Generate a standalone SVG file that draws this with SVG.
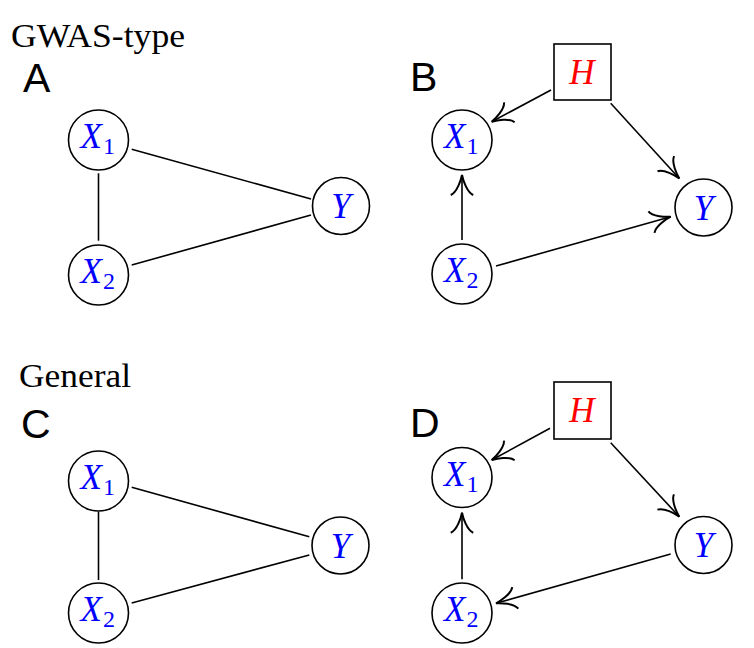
<svg xmlns="http://www.w3.org/2000/svg" width="754" height="648" viewBox="0 0 754 648">
<style>
.bg{fill:#fff}
.nd{fill:#fff;stroke:#000;stroke-width:1.6}
.ed{fill:none;stroke:#000;stroke-width:1.6}
.var{font-family:"Liberation Serif",serif;font-style:italic;font-size:35px;fill:#0000ff}
.sub{font-family:"Liberation Serif",serif;font-style:normal;font-size:24px;fill:#0000ff}
.hid{font-family:"Liberation Serif",serif;font-style:italic;font-size:35px;fill:#ff0000}
.ttl{font-family:"Liberation Serif",serif;font-size:33px;fill:#000}
.pnl{font-family:"Liberation Sans",Arial,sans-serif;font-size:41px;fill:#000}
</style>
<defs>
<marker id="ah" markerUnits="userSpaceOnUse" markerWidth="30" markerHeight="30" viewBox="-20 -12 24 24" refX="0" refY="0" orient="auto" overflow="visible">
<path d="M -16 -9 C -14 -4 -4 -0.8 0 0 C -4 0.8 -14 4 -16 9" fill="none" stroke="#000" stroke-width="1.6"/>
</marker>
</defs>
<rect class="bg" x="0" y="0" width="754" height="648"/>

<g id="labels">
<text class="ttl" x="11" y="47" textLength="174" lengthAdjust="spacingAndGlyphs">GWAS-type</text>
<text class="ttl" x="19" y="387" textLength="112" lengthAdjust="spacingAndGlyphs">General</text>
<text class="pnl" x="23" y="92">A</text>
<text class="pnl" x="410" y="91">B</text>
<text class="pnl" x="21" y="438">C</text>
<text class="pnl" x="410" y="437">D</text>
</g>

<g id="connectors">
<!-- A -->
<line class="ed" x1="131.7" y1="149.3" x2="311" y2="199"/>
<line class="ed" x1="131.7" y1="265" x2="311" y2="215"/>
<line class="ed" x1="98.5" y1="173.3" x2="98.5" y2="240.7"/>
<!-- B -->
<line class="ed" x1="551" y1="90" x2="491.7" y2="121.7" marker-end="url(#ah)"/>
<line class="ed" x1="610.7" y1="103.3" x2="679.3" y2="178.5" marker-end="url(#ah)"/>
<line class="ed" x1="462" y1="240" x2="462" y2="175" marker-end="url(#ah)"/>
<line class="ed" x1="496" y1="266" x2="670.7" y2="216.7" marker-end="url(#ah)"/>
<!-- C -->
<line class="ed" x1="131.7" y1="487.3" x2="309.3" y2="536.7"/>
<line class="ed" x1="131.7" y1="603" x2="309.3" y2="555"/>
<line class="ed" x1="98.5" y1="511.7" x2="98.5" y2="580"/>
<!-- D -->
<line class="ed" x1="550" y1="428.3" x2="491.7" y2="460" marker-end="url(#ah)"/>
<line class="ed" x1="610.7" y1="442.7" x2="679.3" y2="516.7" marker-end="url(#ah)"/>
<line class="ed" x1="462" y1="579.3" x2="462" y2="512.7" marker-end="url(#ah)"/>
<line class="ed" x1="670.7" y1="554" x2="496" y2="603.3" marker-end="url(#ah)"/>
</g>

<!-- Panel A nodes -->
<g id="A_X1"><circle class="nd" cx="98.5" cy="140" r="30"/><text class="var" x="80.5" y="148">X</text><text class="sub" x="103" y="154">1</text></g>
<g id="A_X2"><circle class="nd" cx="98.5" cy="275" r="30"/><text class="var" x="80.5" y="283">X</text><text class="sub" x="103" y="289">2</text></g>
<g id="A_Y"><circle class="nd" cx="341" cy="206" r="28.5"/><text class="var" x="341" y="218" text-anchor="middle">Y</text></g>

<!-- Panel B nodes -->
<g id="B_H"><rect class="nd" x="554" y="44" width="57" height="56"/><text class="hid" x="582" y="83.5" text-anchor="middle">H</text></g>
<g id="B_X1"><circle class="nd" cx="462" cy="140" r="30"/><text class="var" x="444" y="148">X</text><text class="sub" x="466.5" y="154">1</text></g>
<g id="B_X2"><circle class="nd" cx="462" cy="274" r="30"/><text class="var" x="444" y="282">X</text><text class="sub" x="466.5" y="288">2</text></g>
<g id="B_Y"><circle class="nd" cx="703.5" cy="207.5" r="28.5"/><text class="var" x="703.5" y="219.5" text-anchor="middle">Y</text></g>

<!-- Panel C nodes -->
<g id="C_X1"><circle class="nd" cx="98.5" cy="481" r="30"/><text class="var" x="80.5" y="489">X</text><text class="sub" x="103" y="495">1</text></g>
<g id="C_X2"><circle class="nd" cx="98.5" cy="613" r="30"/><text class="var" x="80.5" y="621">X</text><text class="sub" x="103" y="627">2</text></g>
<g id="C_Y"><circle class="nd" cx="340.5" cy="545.5" r="28.5"/><text class="var" x="340.5" y="557.5" text-anchor="middle">Y</text></g>

<!-- Panel D nodes -->
<g id="D_H"><rect class="nd" x="554" y="382" width="57" height="57"/><text class="hid" x="582" y="421.5" text-anchor="middle">H</text></g>
<g id="D_X1"><circle class="nd" cx="462" cy="477.5" r="30"/><text class="var" x="444" y="485.5">X</text><text class="sub" x="466.5" y="491.5">1</text></g>
<g id="D_X2"><circle class="nd" cx="462" cy="613" r="30"/><text class="var" x="444" y="621">X</text><text class="sub" x="466.5" y="627">2</text></g>
<g id="D_Y"><circle class="nd" cx="703.5" cy="545" r="28.5"/><text class="var" x="703.5" y="557" text-anchor="middle">Y</text></g>
</svg>
